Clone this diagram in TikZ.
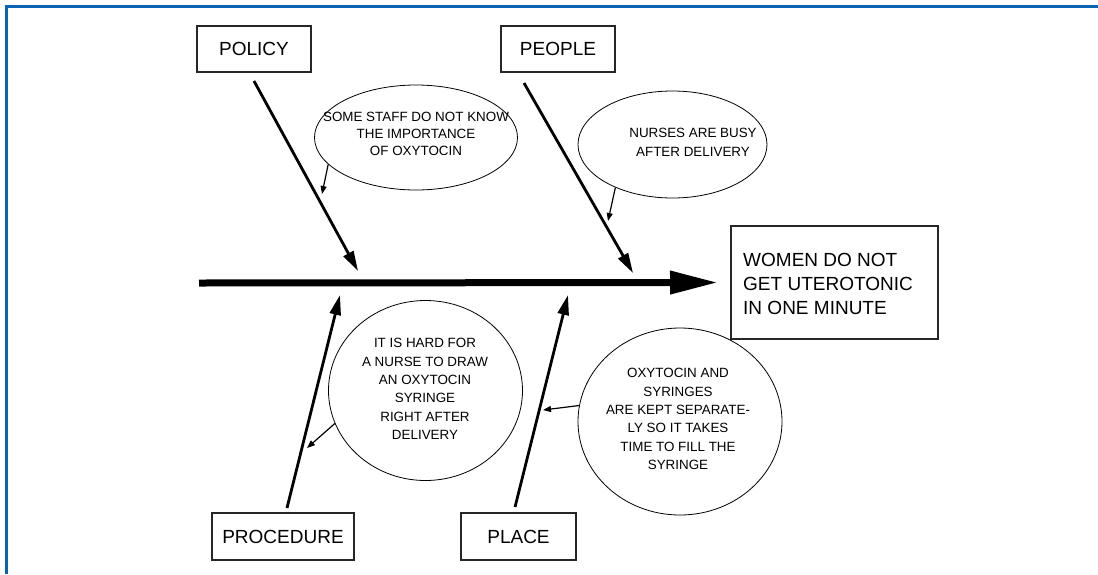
\documentclass[tikz,border=0pt]{standalone}
\usepackage{fontspec}
\setmainfont{Liberation Sans}
\usetikzlibrary{arrows.meta,shapes.geometric}
\definecolor{frameblue}{HTML}{0A64B4}
\begin{document}
\begin{tikzpicture}[x=1pt,y=-1pt,
  box/.style={draw=black!85,line width=1.1pt,rectangle,inner sep=0pt,font=\fontsize{19}{22}\selectfont},
  bubble/.style={draw,ellipse,line width=0.8pt,inner sep=0pt},
  btext/.style={align=center,inner sep=0pt},
  bone/.style={line width=2.8pt,-{Triangle[length=20pt,width=11pt]}},
  spine/.style={line width=7pt,-{Triangle[length=48pt,width=22pt]}},
  note/.style={line width=1.2pt,-{Triangle[length=8pt,width=6pt]}}]
\useasboundingbox (0,0) rectangle (1098,574);
% frame
\draw[frameblue,line width=3.2pt] (6.8,574) -- (6.8,6.8) -- (1098,6.8);
% boxes
\node[box,minimum width=114pt,minimum height=46pt] (policy) at (254,49) {POLICY};
\node[box,minimum width=114pt,minimum height=46pt] (people) at (558,49) {PEOPLE};
\node[box,minimum width=142pt,minimum height=47pt] (procedure) at (283,536.5) {PROCEDURE};
\node[box,minimum width=115pt,minimum height=47pt] (place) at (518.5,536.5) {PLACE};
\node[box,minimum width=207pt,minimum height=113pt] (effect) at (834.5,282.5) {};
\node[align=left,anchor=west,inner sep=0pt,font=\fontsize{19}{24}\selectfont] (efftext) at (743,284)
  {WOMEN DO NOT\\GET UTEROTONIC\\IN ONE MINUTE};
% ellipses
\node[bubble,minimum width=203pt,minimum height=105pt] (e1) at (416,137.5) {};
\node[btext,font=\fontsize{13.4}{17}\selectfont] (t1) at (416,134) {SOME STAFF DO NOT KNOW\\THE IMPORTANCE\\OF OXYTOCIN};
\node[bubble,minimum width=189pt,minimum height=107pt] (e2) at (672.5,144.5) {};
\node[btext,font=\fontsize{13.4}{19}\selectfont] (t2) at (693,142) {NURSES ARE BUSY\\AFTER DELIVERY};
\node[bubble,minimum width=194pt,minimum height=180pt] (e3) at (425.5,390.5) {};
\node[btext,font=\fontsize{13.4}{18.4}\selectfont] (t3) at (425,389) {IT IS HARD FOR\\A NURSE TO DRAW\\AN OXYTOCIN\\SYRINGE\\RIGHT AFTER\\DELIVERY};
\node[bubble,minimum width=204pt,minimum height=187pt] (e4) at (680,421.5) {};
\node[btext,font=\fontsize{13.4}{18.4}\selectfont] (t4) at (678,419) {OXYTOCIN AND\\SYRINGES\\ARE KEPT SEPARATE-\\LY SO IT TAKES\\TIME TO FILL THE\\SYRINGE};
% spine
\coordinate (s0) at (199,283);
\draw[spine] (s0) -- (effect.west -| 718,0);
% bones
\coordinate (b1s) at (254,81);  \coordinate (b1e) at (358,271);
\coordinate (b2s) at (524,83);  \coordinate (b2e) at (633,273);
\coordinate (b3s) at (287,508); \coordinate (b3e) at (340,295);
\coordinate (b4s) at (515,507); \coordinate (b4e) at (568,295);
\draw[bone] (b1s) -- (b1e);
\draw[bone] (b2s) -- (b2e);
\draw[bone] (b3s) -- (b3e);
\draw[bone] (b4s) -- (b4e);
% notes
\coordinate (n1) at (322,194);
\coordinate (n2) at (608,221);
\coordinate (n3) at (307,448);
\coordinate (n4) at (543,410);
\draw[note] (e1.197) -- (n1);
\draw[note] (e2.217) -- (n2);
\draw[note] (e3.200) -- (n3);
\draw[note] (e4.171) -- (n4);
\end{tikzpicture}
\end{document}
